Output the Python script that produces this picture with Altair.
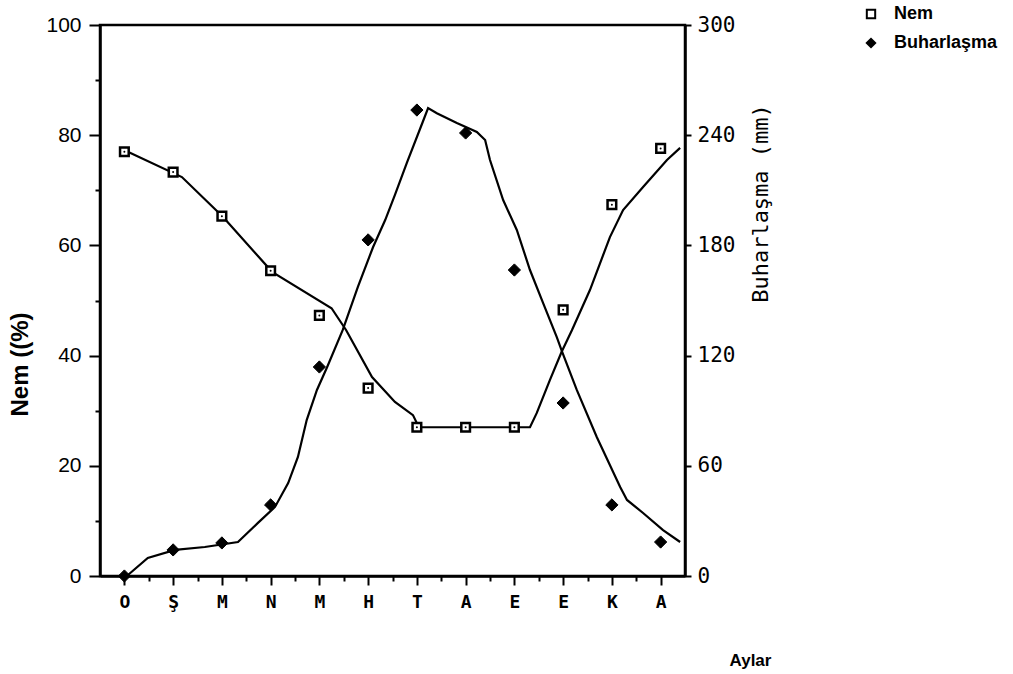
import altair as alt
import pandas as pd

# ---- data ----
months = ["O", "Ş", "M", "N", "M", "H", "T", "A", "E", "E", "K", "A"]
nem = [77.0, 73.3, 65.3, 55.4, 47.3, 34.1, 27.0, 27.0, 27.0, 48.3, 67.4, 77.6]
buhar = [0.0, 14.2, 18.0, 38.7, 113.8, 183.0, 253.7, 241.2, 166.6, 94.2, 38.7, 18.5]

# fitted curves, x in month index units
nem_curve_x = [0.07, 1.18, 2.02, 3.03, 4.25, 4.55, 5.08, 5.55, 5.92, 6.04, 8.32, 8.46,
               8.73, 8.97, 9.18, 9.55, 9.96, 10.23, 10.64, 11.13, 11.40]
nem_curve_y = [77.0, 72.4, 65.2, 55.2, 48.6, 44.6, 36.1, 31.6, 29.2, 27.0, 27.0, 29.6,
               35.6, 40.7, 44.6, 51.9, 61.5, 66.4, 70.6, 75.5, 77.7]
buh_curve_x = [0.05, 0.48, 1.04, 1.65, 2.33, 2.74, 3.09, 3.36, 3.56, 3.74, 3.95, 4.16,
               4.48, 4.79, 5.10, 5.35, 5.55, 5.80, 6.12, 6.23, 6.41, 6.82, 7.23, 7.40,
               7.50, 7.77, 8.05, 8.32, 8.59, 8.87, 8.98, 9.28, 9.69, 10.17, 10.31,
               10.64, 11.05, 11.40]
buh_curve_y = [0.0, 9.8, 14.2, 15.8, 18.5, 28.9, 37.6, 50.6, 64.8, 84.9, 101.3, 113.8,
               134.0, 157.4, 179.0, 193.8, 207.5, 225.4, 247.2, 254.8, 252.0, 246.7,
               241.8, 237.4, 226.5, 204.7, 188.4, 166.6, 148.6, 130.1, 122.0, 101.3,
               75.7, 48.5, 41.4, 34.3, 25.0, 18.5]

left_ticks = [0, 10, 20, 30, 40, 50, 60, 70, 80, 90, 100]
right_ticks = [0, 60, 120, 180, 240, 300]
x_ticks = [i * 0.5 for i in range(0, 23)]
series_names = ["Nem", "Buharlaşma"]

idx = list(range(len(months)))
nem_df = pd.DataFrame({"i": idx, "v": nem, "series": "Nem"})
buh_df = pd.DataFrame({"i": idx, "v": buhar, "series": "Buharlaşma"})
nem_c = pd.DataFrame({"i": nem_curve_x, "v": nem_curve_y})
buh_c = pd.DataFrame({"i": buh_curve_x, "v": buh_curve_y})

month_js = "[" + ",".join("'" + m + "'" for m in months) + "]"

x_enc = alt.X(
    "i:Q",
    scale=alt.Scale(domain=[-0.5, 11.5], nice=False, zero=False),
    axis=alt.Axis(
        values=x_ticks,
        labelExpr=f"datum.value % 1 === 0 ? {month_js}[datum.value] : ''",
        tickSize={"condition": {"test": "datum.value % 1 === 0", "value": 9}, "value": 5},
        labelPadding=8,
        labelFont="DejaVu Sans Mono",
        labelFontSize=18,
        labelFontWeight="bold",
        labelOverlap=False,
        labelFlush=False,
        grid=False,
        title="Aylar",
        titleX=650,
        titleY=84,
        titleAlign="center",
        titleBaseline="middle",
        titleFont="Liberation Sans",
        titleFontSize=17,
        titleFontWeight="bold",
    ),
)

y_left = alt.Y(
    "v:Q",
    scale=alt.Scale(domain=[0, 100], nice=False),
    axis=alt.Axis(
        values=left_ticks,
        labelExpr="datum.value % 20 === 0 ? datum.label : ''",
        tickSize={"condition": {"test": "datum.value % 20 === 0", "value": 11}, "value": 5},
        labelPadding=8,
        labelFont="Liberation Sans",
        labelFontSize=21,
        labelBaseline="middle",
        grid=False,
        title="Nem ((%)",
        titleX=-80,
        titleY=339,
        titleAngle=270,
        titleAlign="center",
        titleBaseline="middle",
        titleFont="Liberation Sans",
        titleFontSize=24,
        titleFontWeight="bold",
    ),
)

y_right = alt.Y(
    "v:Q",
    scale=alt.Scale(domain=[0, 300], nice=False),
    axis=alt.Axis(
        orient="right",
        values=right_ticks,
        tickSize=6,
        labelPadding=6,
        labelFont="DejaVu Sans Mono",
        labelFontSize=21,
        labelBaseline="middle",
        grid=False,
        title="Buharlaşma (mm)",
        titleX=75,
        titleY=178,
        titleAngle=270,
        titleAlign="center",
        titleBaseline="middle",
        titleFont="DejaVu Sans Mono",
        titleFontSize=22,
        titleFontWeight="normal",
    ),
)

legend_opts = dict(
    orient="none",
    legendX=762,
    legendY=-20,
    padding=0,
    rowPadding=11,
    symbolSize=70,
    symbolStrokeWidth=2,
    labelOffset=14,
    labelFont="Liberation Sans",
    labelFontSize=18,
    labelFontWeight="bold",
    labelColor="black",
)

shape_enc = alt.Shape(
    "series:N",
    scale=alt.Scale(domain=series_names, range=["square", "diamond"]),
    title=None,
    legend=alt.Legend(**legend_opts),
)
fill_enc = alt.Fill(
    "series:N",
    scale=alt.Scale(domain=series_names, range=["white", "black"]),
    title=None,
    legend=alt.Legend(**legend_opts),
)
stroke_enc = alt.Stroke(
    "series:N",
    scale=alt.Scale(domain=series_names, range=["black", "black"]),
    title=None,
    legend=alt.Legend(**legend_opts),
)

nem_line = alt.Chart(nem_c).mark_line(color="black", strokeWidth=2.2).encode(x=x_enc, y=y_left)
nem_pts = alt.Chart(nem_df).mark_point(filled=True, strokeWidth=2.5, size=75, opacity=1).encode(
    x=x_enc, y=y_left, shape=shape_enc, fill=fill_enc, stroke=stroke_enc
)
nem_dot = alt.Chart(nem_df).mark_circle(color="black", size=4, opacity=1).encode(x=x_enc, y=y_left)
left = alt.layer(nem_line, nem_pts, nem_dot)

buh_line = alt.Chart(buh_c).mark_line(color="black", strokeWidth=2.2).encode(x=x_enc, y=y_right)
buh_pts = alt.Chart(buh_df).mark_point(filled=True, strokeWidth=1, size=150, opacity=1).encode(
    x=x_enc, y=y_right, shape=shape_enc, fill=fill_enc, stroke=stroke_enc
)
right = alt.layer(buh_line, buh_pts)

chart = (
    alt.layer(left, right)
    .resolve_scale(y="independent")
    .properties(
        width=585,
        height=551,
        padding={"left": 100, "top": 25, "right": 328, "bottom": 98},
        autosize=alt.AutoSizeParams(type="none"),
        background="white",
    )
    .configure_view(stroke="black", strokeWidth=2.5)
    .configure_axis(
        domainColor="black",
        domainWidth=2.5,
        tickColor="black",
        tickWidth=2,
        labelColor="black",
        titleColor="black",
    )
)

chart.save("out.html", embed_options={"renderer": "svg", "actions": False})
